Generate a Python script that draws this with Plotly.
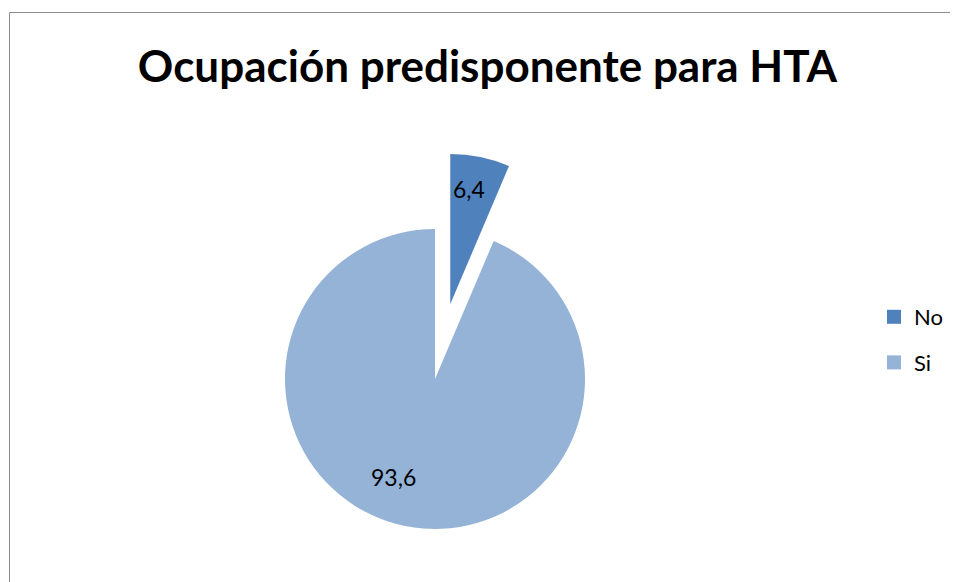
import math
import plotly.graph_objects as go

# ---- data ----
labels = ["No", "Si"]
values = [6.4, 93.6]
colors = ["#4F81BD", "#95B3D7"]
title_text = "Ocupación predisponente para HTA"

W, H = 958, 582
OFF = 8  # page body margin offset
FONT = "Lato"

def fmt(v):
    return f"{v:.1f}".replace(".", ",")

# geometry of the pie (pixels, figure coords)
cx, cy, r = 435 - OFF, 379 - OFF, 150
pull = 0.51
total = sum(values)
mid = 2 * math.pi * (values[0] / 2) / total
cx2 = cx + pull * r * math.sin(mid)
cy2 = cy - pull * r * math.cos(mid)

def dom(x, y):
    return dict(x=[(x - r) / W, (x + r) / W], y=[(H - y - r) / H, (H - y + r) / H])

transparent = "rgba(0,0,0,0)"

fig = go.Figure()
# main pie: shows "Si"
fig.add_trace(go.Pie(
    labels=labels, values=values, sort=False, direction="clockwise", rotation=0,
    marker=dict(colors=[transparent, colors[1]], line=dict(width=0)),
    textinfo="none", domain=dom(cx, cy), showlegend=False, hoverinfo="skip",
))
# exploded slice: "No"
fig.add_trace(go.Pie(
    labels=labels, values=values, sort=False, direction="clockwise", rotation=0,
    marker=dict(colors=[colors[0], transparent], line=dict(width=0)),
    textinfo="none", domain=dom(cx2, cy2), showlegend=False, hoverinfo="skip",
))
# legend entries
for lab, col in zip(labels, colors):
    fig.add_trace(go.Scatter(
        x=[None], y=[None], mode="markers", name=lab, legendgroup=lab,
        marker=dict(symbol="square", size=14, color=col),
    ))

# data labels placed inside the slices (angle from 12 o'clock, clockwise; radius fraction)
label_pos = [(cx2, cy2, 9.4, 0.78), (cx, cy, 202.7, 0.71)]
annotations = []
for v, (px, py, ang, rf) in zip(values, label_pos):
    a = math.radians(ang)
    x = px + rf * r * math.sin(a)
    y = py - rf * r * math.cos(a)
    annotations.append(dict(text=fmt(v), x=x / W, y=1 - y / H, xref="paper", yref="paper",
                             xanchor="center", yanchor="middle", showarrow=False,
                             font=dict(family=FONT, size=23, color="black")))

border = dict(color="#8c8c8c", width=1)
fig.update_layout(
    width=W, height=H,
    margin=dict(l=0, r=0, t=0, b=0),
    paper_bgcolor="white", plot_bgcolor="white",
    xaxis=dict(visible=False), yaxis=dict(visible=False),
    title=dict(text=title_text, x=(487.5 - OFF) / W, xanchor="center", xref="container",
               y=1 - (67 - OFF) / H, yanchor="middle", yref="container",
               font=dict(family=FONT, size=44, color="black", weight=700)),
    legend=dict(x=(874 - OFF) / W, xanchor="left", y=1 - (298 - OFF - 2) / H, yanchor="top",
                font=dict(family=FONT, size=22, color="black"),
                tracegroupgap=14, bgcolor="rgba(0,0,0,0)"),
    annotations=annotations,
    shapes=[
        dict(type="line", xref="paper", yref="paper",
             x0=(9.5 - OFF) / W, x1=1.2, y0=1 - (12.5 - OFF) / H, y1=1 - (12.5 - OFF) / H,
             line=border, layer="below"),
        dict(type="line", xref="paper", yref="paper",
             x0=(9.5 - OFF) / W, x1=(9.5 - OFF) / W, y0=-0.2, y1=1 - (12.5 - OFF) / H,
             line=border, layer="below"),
    ],
)

fig.write_html("out.html")
